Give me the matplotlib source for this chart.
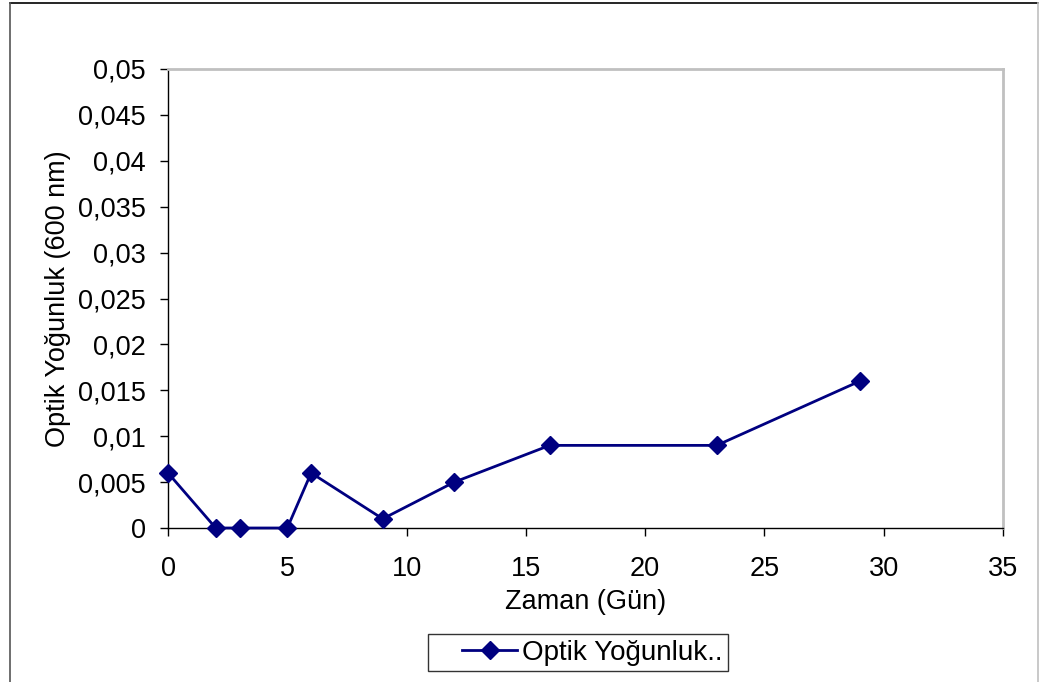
import matplotlib
matplotlib.use("Agg")
import matplotlib.pyplot as plt
from matplotlib.ticker import FuncFormatter, MultipleLocator
from matplotlib.lines import Line2D
from matplotlib.legend_handler import HandlerLine2D

plt.rcParams['font.family'] = ['Liberation Sans', 'DejaVu Sans']

days = [0, 2, 3, 5, 6, 9, 12, 16, 23, 29]
od = [0.006, 0, 0, 0, 0.006, 0.001, 0.005, 0.009, 0.009, 0.016]
series_label = "Optik Yoğunluk.."
xlabel = "Zaman (Gün)"
ylabel = "Optik Yoğunluk (600 nm)"

FS = 19.5
NAVY = '#000080'
W, H = 1040, 682
fig = plt.figure(figsize=(W/100, H/100), dpi=100)
ax = fig.add_axes([168/W, 1-528/H, (1003-168)/W, (528-69)/H])

ax.plot(days, od, color=NAVY, lw=2, marker='D', markersize=9.5,
        markerfacecolor=NAVY, markeredgecolor=NAVY, label=series_label, clip_on=False, zorder=5)

ax.set_xlim(0, 35)
ax.set_ylim(0, 0.05)
ax.xaxis.set_major_locator(MultipleLocator(5))
ax.yaxis.set_major_locator(MultipleLocator(0.005))

def fmt(v, pos):
    s = f"{v:.3f}".rstrip('0').rstrip('.')
    return s.replace('.', ',')

ax.yaxis.set_major_formatter(FuncFormatter(fmt))
ax.xaxis.set_major_formatter(FuncFormatter(lambda v, p: f"{int(round(v))}"))
ax.tick_params(axis='both', direction='out', length=6, width=1, color='black', labelsize=FS)
ax.tick_params(axis='y', pad=10)
ax.tick_params(axis='x', pad=14)

for s in ['top', 'right']:
    ax.spines[s].set_color('#c0c0c0')
    ax.spines[s].set_linewidth(2)
for s in ['left', 'bottom']:
    ax.spines[s].set_color('black')
    ax.spines[s].set_linewidth(1)

ax.set_xlabel(xlabel, fontsize=FS, labelpad=5)
ax.set_ylabel(ylabel, fontsize=FS, labelpad=5)


class ShiftHandler(HandlerLine2D):
    def create_artists(self, legend, orig_handle, xdescent, ydescent, width, height, fontsize, trans):
        shift = 1.0 * fontsize
        return super().create_artists(legend, orig_handle, xdescent - shift, ydescent,
                                      width - shift, height, fontsize, trans)


h = Line2D([0], [0], color=NAVY, lw=2, marker='D', markersize=9.5)
leg = fig.legend(handles=[h], labels=[series_label], loc='center',
                 bbox_to_anchor=(578/W, 1-652.5/H), fontsize=20, frameon=True, fancybox=False,
                 handlelength=3.0, borderpad=0.2, handletextpad=0.15,
                 handler_map={h: ShiftHandler()})
leg.get_frame().set_edgecolor('black')
leg.get_frame().set_linewidth(1)

# figure border
fig.add_artist(Line2D([10/W, 1038/W], [1-3/H, 1-3/H], color='black', lw=1.2, transform=fig.transFigure))
fig.add_artist(Line2D([10/W, 10/W], [0, 1-3/H], color='#555555', lw=1.2, transform=fig.transFigure))
fig.add_artist(Line2D([1038/W, 1038/W], [0, 1-3/H], color='#c0c0c0', lw=1.2, transform=fig.transFigure))

fig.savefig("out.png", dpi=100)
